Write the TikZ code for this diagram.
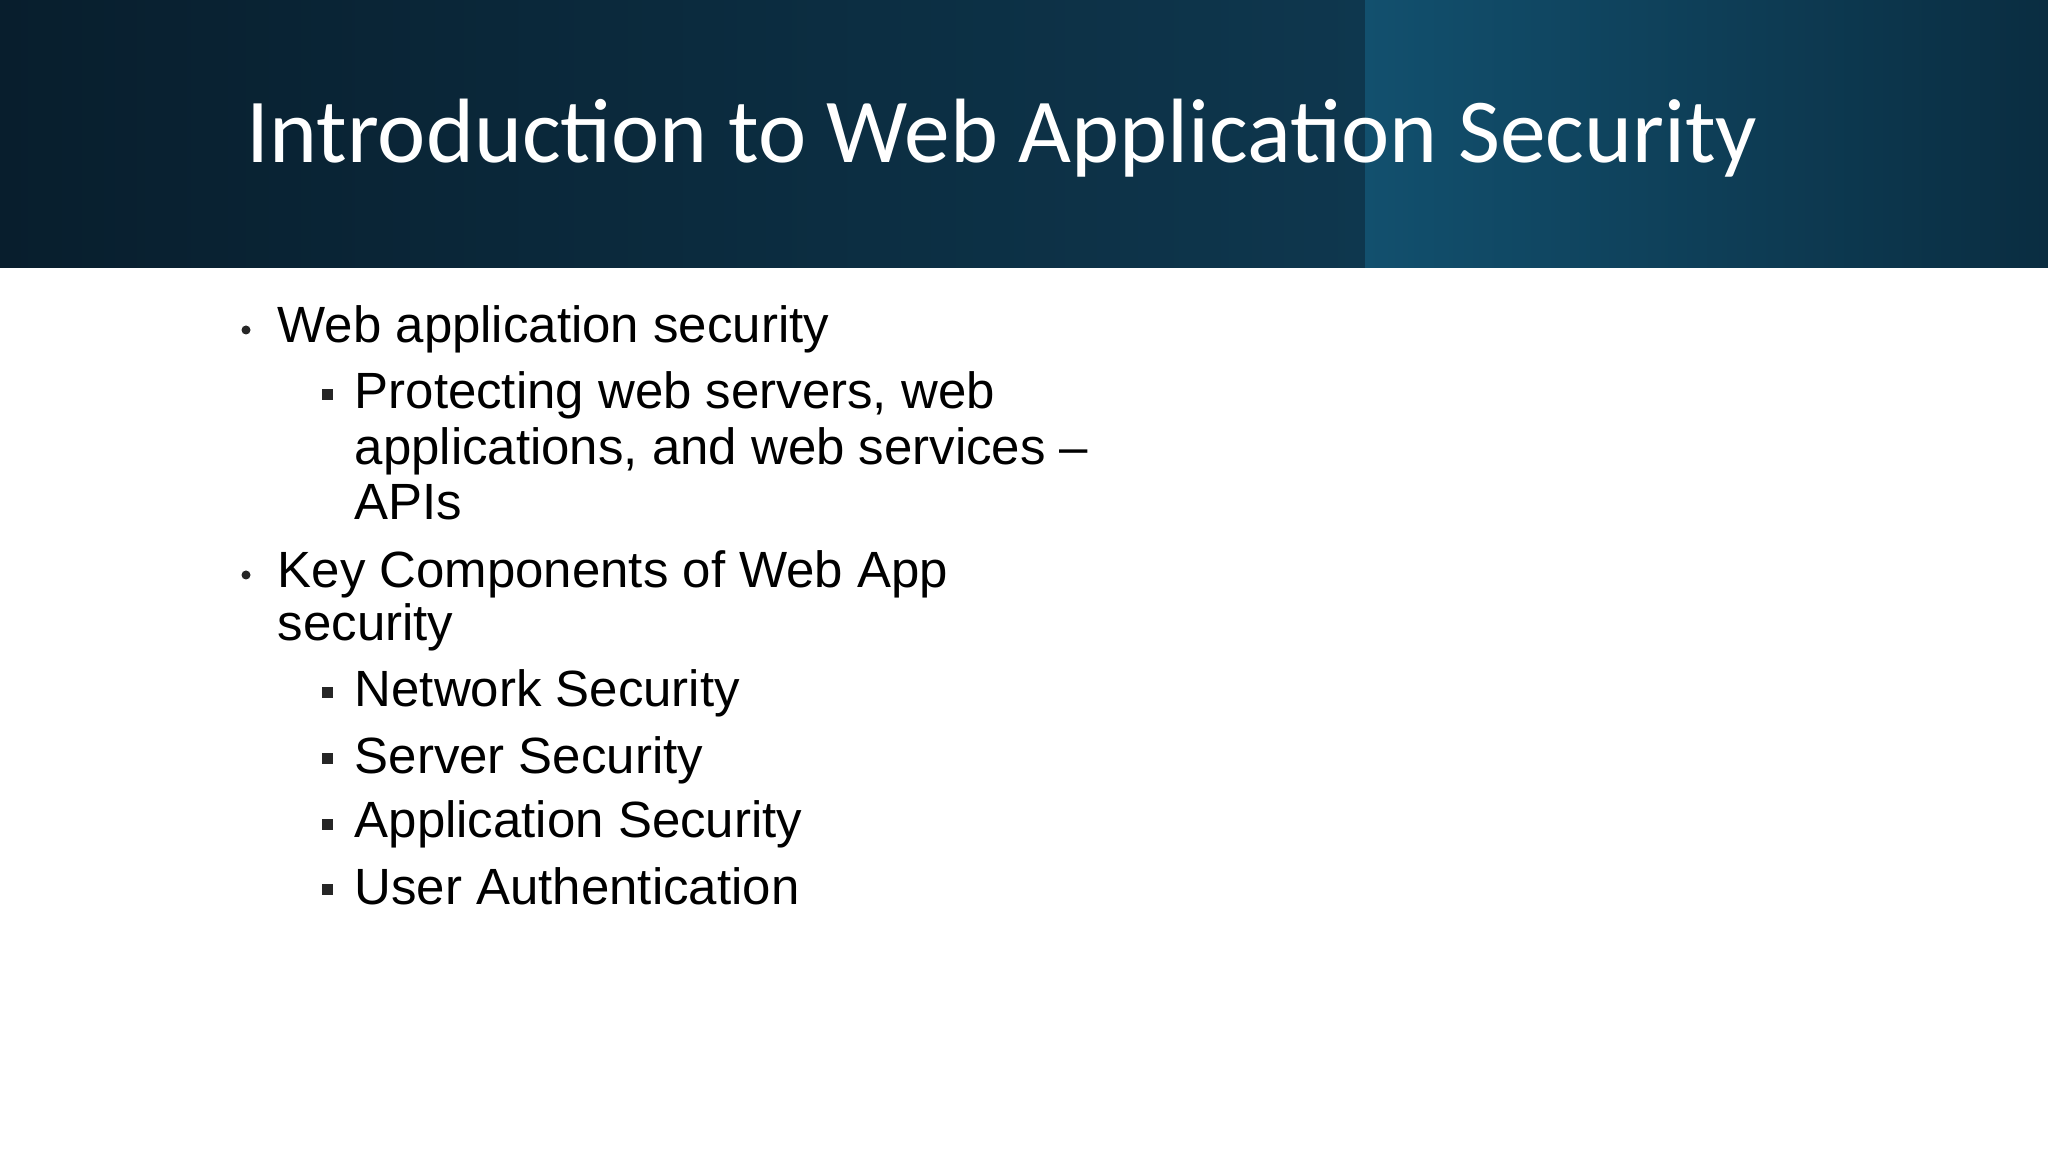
\documentclass[tikz,border=0pt]{standalone}
\usepackage{fontspec}
\setmainfont{Liberation Sans}
\newfontfamily\titlefont{Carlito}
\begin{document}
\begin{tikzpicture}[
  txt/.style={anchor=base west,inner sep=0pt,font=\fontsize{14.5pt}{17pt}\selectfont,text=black},
  dot/.style={circle,fill=black!85,inner sep=0pt,minimum size=0.09cm},
  sq/.style={rectangle,fill=black!85,inner sep=0pt,minimum size=0.11cm}]
\useasboundingbox (0,-11.52) rectangle (20.48,0);
\fill[white] (0,-11.52) rectangle (20.48,0);
\shade[left color={rgb,255:red,8;green,30;blue,45}, right color={rgb,255:red,14;green,55;blue,78}] (0,-2.68) rectangle (13.65,0);
\shade[left color={rgb,255:red,18;green,80;blue,110}, right color={rgb,255:red,10;green,45;blue,65}] (13.65,-2.68) rectangle (20.48,0);
\node[anchor=base west,inner sep=0pt,text=white,font=\titlefont\fontsize{26pt}{30pt}\selectfont] (title) at (2.46,-1.63) {Introduction to Web Application Security};
\node[dot] (b1) at (2.46,-3.30) {};
\node[txt] (t1) at (2.77,-3.43) {Web application security};
\node[sq] (s1) at (3.27,-3.95) {};
\node[txt] (t2) at (3.54,-4.09) {Protecting web servers, web};
\node[txt] (t3) at (3.54,-4.65) {applications, and web services –};
\node[txt] (t4) at (3.54,-5.20) {APIs};
\node[dot] (b2) at (2.46,-5.75) {};
\node[txt] (t5) at (2.77,-5.88) {Key Components of Web App};
\node[txt] (t6) at (2.77,-6.41) {security};
\node[sq] (s2) at (3.27,-6.93) {};
\node[txt] (t7) at (3.54,-7.07) {Network Security};
\node[sq] (s3) at (3.27,-7.59) {};
\node[txt] (t8) at (3.54,-7.73) {Server Security};
\node[sq] (s4) at (3.27,-8.24) {};
\node[txt] (t9) at (3.54,-8.38) {Application Security};
\node[sq] (s5) at (3.27,-8.90) {};
\node[txt] (t10) at (3.54,-9.04) {User Authentication};
\end{tikzpicture}
\end{document}
